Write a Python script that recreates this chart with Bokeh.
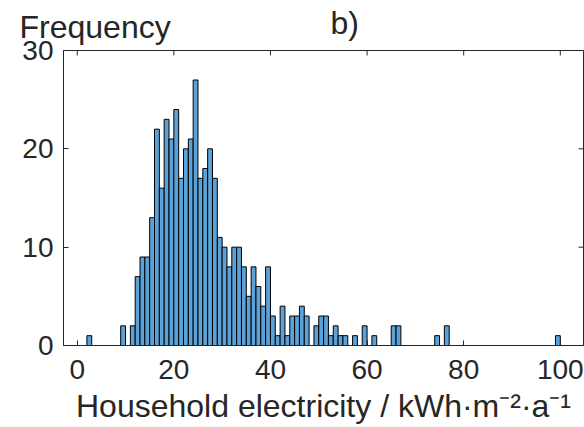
from bokeh.plotting import figure
from bokeh.models import Title, FixedTicker, Range1d, ColumnDataSource
from bokeh.embed import file_html
from bokeh.resources import INLINE

# ---- data (bin width 1 kWh/m2a) ----
bin_left = [2, 9, 11, 12, 13, 14, 15, 16, 17, 18, 19, 20, 21, 22, 23, 24, 25, 26, 27, 28,
            29, 30, 31, 32, 33, 34, 35, 36, 37, 38, 39, 40, 41, 42, 43, 44, 45, 46, 47,
            49, 50, 51, 52, 53, 54, 55, 57, 59, 61, 65, 66, 74, 76, 99]
counts = [1, 2, 2, 7, 9, 9, 13, 22, 16, 23, 21, 24, 17, 20, 21, 27, 17, 18, 20, 17,
          11, 10, 8, 10, 10, 8, 5, 8, 6, 4, 8, 3, 1, 4, 1, 3, 3, 4, 3,
          2, 3, 3, 1, 2, 1, 1, 1, 2, 1, 2, 2, 1, 2, 1]
bin_width = 1
x_ticks = [0, 20, 40, 60, 80, 100]
y_ticks = [0, 10, 20, 30]
x_label = "Household electricity / kWh\u00b7m\u207b\u00b2\u00b7a\u207b\u00b9"
y_label = "Frequency"
panel = "b)"

AX = "#262626"
FONT = "Liberation Sans"
TICK_FS = "28px"
LAB_FS = "32px"

# frame geometry (pixels)
FL, FR, FT, FB = 63, 583, 47, 345
X0, X1 = -2.84, 104.8
Y0, Y1 = 0, 30
TICK_LEN = 5

p = figure(width=584, height=427, x_range=Range1d(X0, X1), y_range=Range1d(Y0, Y1),
           output_backend="svg", toolbar_location=None,
           min_border_left=FL, min_border_right=584 - FR, min_border_top=FT,
           min_border_bottom=427 - FB)
p.xgrid.visible = False
p.ygrid.visible = False
p.background_fill_color = "white"
p.border_fill_color = "white"
p.outline_line_color = AX
p.outline_line_width = 1

src = ColumnDataSource(dict(left=bin_left,
                            right=[b + bin_width for b in bin_left],
                            top=counts))
p.quad(left="left", right="right", bottom=0, top="top", source=src,
       fill_color="#5AA2D8", line_color="black", line_width=1)


def style_axis(ax, ticks, standoff):
    ax.ticker = FixedTicker(ticks=ticks)
    ax.axis_line_color = AX
    ax.major_tick_line_color = AX
    ax.major_tick_in = TICK_LEN
    ax.major_tick_out = 0
    ax.minor_tick_in = 0
    ax.minor_tick_out = 0
    ax.minor_tick_line_color = None
    ax.major_label_standoff = standoff
    ax.major_label_text_font = FONT
    ax.major_label_text_color = AX
    ax.major_label_text_font_size = TICK_FS


style_axis(p.xaxis[0], x_ticks, 14)
style_axis(p.yaxis[0], y_ticks, 10)
xa = p.xaxis[0]
xa.axis_label = x_label
xa.axis_label_text_font = FONT
xa.axis_label_text_font_size = LAB_FS
xa.axis_label_text_font_style = "normal"
xa.axis_label_text_color = AX
xa.axis_label_standoff = 6

# inward ticks on the top and right edges of the box
px_x = (X1 - X0) / (FR - FL)
px_y = (Y1 - Y0) / (FB - FT)
p.segment(x0=x_ticks, x1=x_ticks, y0=[Y1] * len(x_ticks),
          y1=[Y1 - TICK_LEN * px_y] * len(x_ticks), line_color=AX, line_width=1)
p.segment(x0=[X1] * len(y_ticks), x1=[X1 - TICK_LEN * px_x] * len(y_ticks),
          y0=y_ticks, y1=y_ticks, line_color=AX, line_width=1)

# two titles sharing one line: "Frequency" (inner) at the top-left,
# panel letter (outer, negative standoff drops it onto the same line)
p.title = Title(text=panel, align="left", offset=267, standoff=-80,
                text_font=FONT, text_font_size=LAB_FS, text_font_style="normal",
                text_color=AX)
p.add_layout(Title(text=y_label, align="left", offset=-44, standoff=12,
                   text_font=FONT, text_font_size=LAB_FS, text_font_style="normal",
                   text_color=AX), "above")

open("out.html", "w").write(file_html(p, INLINE))
